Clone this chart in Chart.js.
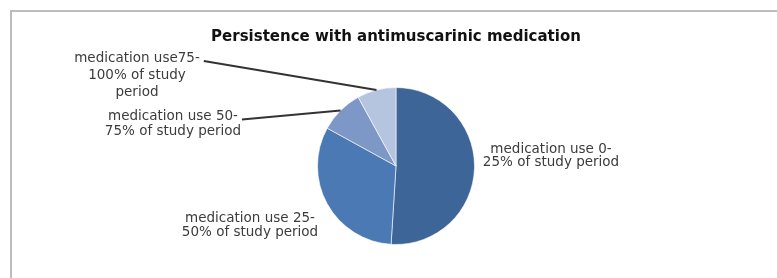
<!DOCTYPE html>
<html>
<head>
<meta charset="utf-8">
<script src="https://cdn.jsdelivr.net/npm/chart.js@4.4.0/dist/chart.umd.min.js"></script>
<style>
    html, body { margin: 0; padding: 0; background: #fff; overflow: hidden; }
    body { width: 777px; height: 278px; position: relative; }
    .frame { position: absolute; left: 10px; top: 10px; right: 0; bottom: 0; border-top: 2px solid #bdbdbd; border-left: 2px solid #bdbdbd; }
    #wrap { position: absolute; left: 12px; top: 12px; width: 765px; height: 266px; }
</style>
</head>
<body>
<div class="frame"></div>
<div id="wrap"><canvas id="persistenceChart"></canvas></div>
<script>
// --- Data ---
const categories = [
    'medication use 0-25% of study period',
    'medication use 25-50% of study period',
    'medication use 50-75% of study period',
    'medication use75-100% of study period'
];
const shares = [51, 32, 9, 8];
const labelLines = [
    ['medication use 0-', '25% of study period'],
    ['medication use 25-', '50% of study period'],
    ['medication use 50-', '75% of study period'],
    ['medication use75-', '100% of study', 'period']
];

// --- Look ---
const sliceColors = ['#3d6597', '#4a79b3', '#7d97c6', '#b5c4df'];
// label block centre, offset from pie centre (px); leader = draw a line to the slice
const labelPlace = [
    { dx: 155, dy: -10, lh: 13, leader: false },
    { dx: -146, dy: 59, lh: 14, leader: false },
    { dx: -223, dy: -42, lh: 15, leader: true },
    { dx: -259, dy: -91, lh: 17, leader: true }
];

const sliceLabels = {
    id: 'sliceLabels',
    afterDatasetsDraw(chart) {
        const ctx = chart.ctx;
        const arcs = chart.getDatasetMeta(0).data;
        ctx.save();
        ctx.font = '13.5px "DejaVu Sans", sans-serif';
        ctx.fillStyle = '#3c3c3c';
        ctx.textAlign = 'center';
        ctx.textBaseline = 'middle';
        arcs.forEach((arc, i) => {
            const p = arc.getProps(['x', 'y', 'startAngle', 'endAngle', 'outerRadius'], true);
            const place = labelPlace[i];
            const lines = labelLines[i];
            const cx = p.x + place.dx;
            const top = p.y + place.dy - (lines.length - 1) * place.lh / 2;
            lines.forEach((line, k) => ctx.fillText(line, cx, top + k * place.lh));

            if (place.leader) {
                const mid = (p.startAngle + p.endAngle) / 2;
                const ex = p.x + Math.cos(mid) * p.outerRadius;
                const ey = p.y + Math.sin(mid) * p.outerRadius;
                const sx = cx + ctx.measureText(lines[0]).width / 2 + 4;
                const sy = top + 3;
                ctx.beginPath();
                ctx.moveTo(sx, sy);
                ctx.lineTo(ex, ey);
                ctx.strokeStyle = '#333';
                ctx.lineWidth = 2;
                ctx.stroke();
            }
        });
        ctx.restore();
    }
};

new Chart(document.getElementById('persistenceChart'), {
    type: 'pie',
    data: {
        labels: categories,
        datasets: [{
            data: shares,
            backgroundColor: sliceColors,
            borderColor: 'rgba(255,255,255,0.6)',
            borderWidth: 1
        }]
    },
    options: {
        responsive: true,
        maintainAspectRatio: false,
        animation: false,
        layout: { padding: { left: 3, right: 0, top: 0, bottom: 33 } },
        plugins: {
            legend: { display: false },
            tooltip: { enabled: false },
            title: {
                display: true,
                text: 'Persistence with antimuscarinic medication',
                color: '#111',
                font: { family: '"DejaVu Sans", sans-serif', size: 15, weight: 'bold' },
                padding: { top: 16, bottom: 41 }
            }
        }
    },
    plugins: [sliceLabels]
});
</script>
</body>
</html>
